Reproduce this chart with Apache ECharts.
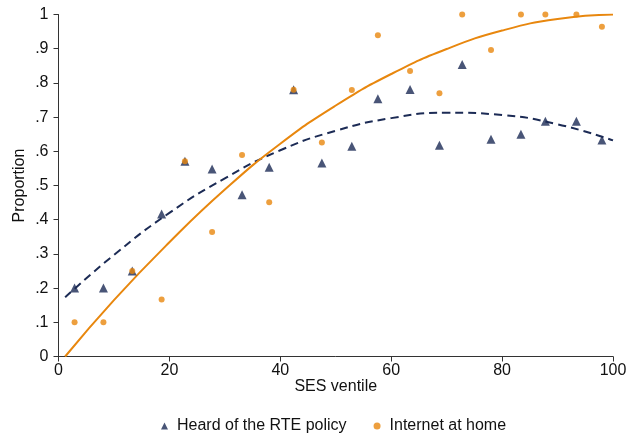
<!DOCTYPE html>
<html>
<head>
<meta charset="utf-8">
<script src="https://cdn.jsdelivr.net/npm/echarts@6/dist/echarts.min.js"></script>
<style>
  html, body { margin: 0; padding: 0; background: #fff; }
  #chart { width: 626px; height: 437px; }
</style>
</head>
<body>
<div id="chart"></div>
<script>
// Mean SES percentile of each ventile group
const sesVentile = [2.9, 8.1, 13.3, 18.6, 22.8, 27.7, 33.1, 38.0, 42.4, 47.5,
                    52.9, 57.6, 63.4, 68.7, 72.8, 78.0, 83.4, 87.8, 93.4, 98.0];

// Share of households that have heard of the RTE policy
const heardRTE = [0.200, 0.200, 0.250, 0.417, 0.571, 0.548, 0.473, 0.553, 0.780, 0.566,
                  0.615, 0.754, 0.781, 0.618, 0.854, 0.635, 0.650, 0.688, 0.688, 0.633];

// Share of households with internet at home
const internetHome = [0.100, 0.100, 0.250, 0.167, 0.571, 0.364, 0.589, 0.451, 0.780, 0.626,
                      0.779, 0.939, 0.835, 0.770, 1.000, 0.896, 1.000, 1.000, 1.000, 0.964];

// Quadratic fitted values along the SES range
const fitX = [1.2, 10, 20, 30, 40, 50, 60, 70, 80, 90, 100];
const fitHeardRTE = [0.173, 0.297, 0.420, 0.521, 0.603, 0.660, 0.697, 0.713, 0.706, 0.679, 0.632];
const fitInternet = [0.000, 0.165, 0.334, 0.488, 0.622, 0.734, 0.826, 0.899, 0.953, 0.987, 1.000];

const yTickLabels = ['0', '.1', '.2', '.3', '.4', '.5', '.6', '.7', '.8', '.9', '1'];
const xTickLabels = ['0', '20', '40', '60', '80', '100'];

const navy = '#1c2b55';
const orange = '#e8870e';
const font = 'Liberation Sans, Arial, sans-serif';
const ink = '#111';

const zip = (xs, ys) => xs.map((x, i) => [x, ys[i]]);

const chart = echarts.init(document.getElementById('chart'), null, { renderer: 'canvas' });
chart.setOption({
  animation: false,
  backgroundColor: '#ffffff',
  textStyle: { fontFamily: font },
  grid: {
    left: 58.5, right: 13, top: 14.5, bottom: 80.5,
    containLabel: false, outerBoundsMode: 'none'
  },
  xAxis: {
    type: 'value', min: 0, max: 100, interval: 20,
    name: 'SES ventile', nameLocation: 'middle', nameGap: 22, nameMoveOverlap: false,
    nameTextStyle: { fontFamily: font, fontSize: 16, color: ink, verticalAlign: 'top' },
    axisLine: { show: true, lineStyle: { color: '#333', width: 1 } },
    axisTick: { show: true, length: 5, lineStyle: { color: '#333' } },
    axisLabel: {
      fontFamily: font, fontSize: 16, color: ink, margin: 6,
      formatter: v => xTickLabels[Math.round(v / 20)]
    },
    splitLine: { show: false }
  },
  yAxis: {
    type: 'value', min: 0, max: 1, interval: 0.1,
    name: 'Proportion', nameLocation: 'middle', nameGap: 31, nameRotate: 90,
    nameMoveOverlap: false,
    nameTextStyle: { fontFamily: font, fontSize: 16, color: ink },
    axisLine: { show: true, lineStyle: { color: '#333', width: 1 } },
    axisTick: { show: true, length: 5, lineStyle: { color: '#333' } },
    axisLabel: {
      fontFamily: font, fontSize: 16, color: ink, margin: 10,
      formatter: v => yTickLabels[Math.round(v * 10)]
    },
    splitLine: { show: false }
  },
  legend: {
    left: 156, top: 413,
    itemWidth: 7, itemHeight: 7, itemGap: 27,
    textStyle: { fontFamily: font, fontSize: 16, color: ink, padding: [0, 0, 0, 4] },
    data: [
      { name: 'Heard of the RTE policy', icon: 'triangle', itemStyle: { color: navy } },
      { name: 'Internet at home', icon: 'circle', itemStyle: { color: orange } }
    ]
  },
  series: [
    {
      name: 'Heard of the RTE policy fit', type: 'line', smooth: true,
      data: zip(fitX, fitHeardRTE), showSymbol: false, z: 2,
      lineStyle: { color: navy, width: 2, type: [8, 5] }
    },
    {
      name: 'Internet at home fit', type: 'line', smooth: true,
      data: zip(fitX, fitInternet), showSymbol: false, z: 2,
      lineStyle: { color: orange, width: 2 }
    },
    {
      name: 'Heard of the RTE policy', type: 'scatter', symbol: 'triangle', symbolSize: 9,
      data: zip(sesVentile, heardRTE), z: 3,
      itemStyle: { color: navy }
    },
    {
      name: 'Internet at home', type: 'scatter', symbol: 'circle', symbolSize: 6,
      data: zip(sesVentile, internetHome), z: 4,
      itemStyle: { color: orange }
    }
  ]
});
</script>
</body>
</html>
